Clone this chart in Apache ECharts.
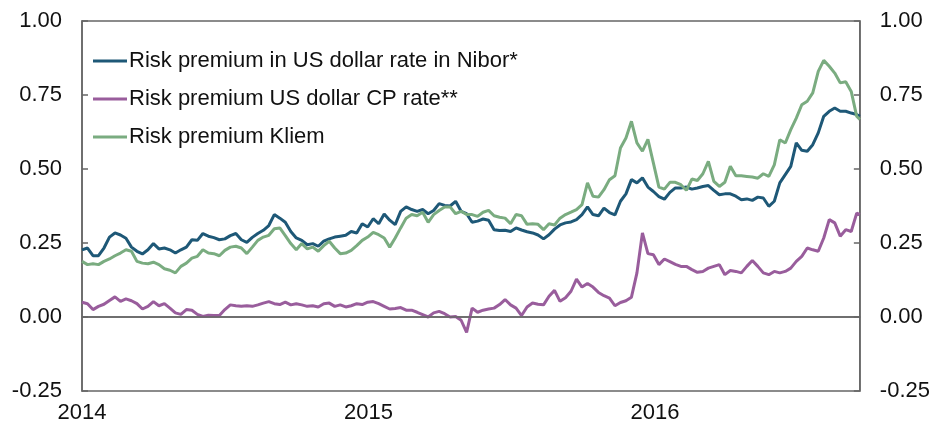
<!DOCTYPE html>
<html>
<head lang="en">
    <meta charset="UTF-8">
    <title>Risk premium</title>
    <script type="text/javascript" src="https://cdn.jsdelivr.net/npm/echarts@6/dist/echarts.min.js"></script>
    <style>
        html, body { margin: 0; padding: 0; background: #fff; }
        #chart { width: 933px; height: 427px; }
    </style>
</head>
<body>
<div id="chart"></div>

<script type="text/javascript">
    // weekly readings from 2014-01-01, last one is the final day shown (day 991)
    var seriesNames = ['Risk premium in US dollar rate in Nibor*', 'Risk premium US dollar CP rate**', 'Risk premium Kliem'];
    var yearLabels = ['2014', '2015', '2016'];
    var lastDay = 991;

    var nibor = [
        0.227, 0.233, 0.207, 0.207, 0.233, 0.270, 0.284, 0.277, 0.266, 0.236, 0.222, 0.213, 0.227, 0.248, 0.230, 0.233, 0.227, 0.216, 0.227, 0.236, 0.261, 0.259, 0.282, 0.273,
        0.268, 0.261, 0.264, 0.275, 0.282, 0.261, 0.252, 0.269, 0.282, 0.293, 0.309, 0.346, 0.334, 0.320, 0.289, 0.267, 0.259, 0.244, 0.248, 0.239, 0.256, 0.264, 0.270, 0.273,
        0.276, 0.289, 0.284, 0.315, 0.304, 0.332, 0.315, 0.348, 0.327, 0.312, 0.357, 0.372, 0.363, 0.357, 0.363, 0.349, 0.360, 0.383, 0.377, 0.375, 0.391, 0.357, 0.349,
        0.320, 0.324, 0.331, 0.327, 0.295, 0.292, 0.293, 0.289, 0.301, 0.294, 0.288, 0.284, 0.277, 0.264, 0.278, 0.297, 0.311, 0.318, 0.321, 0.329, 0.346, 0.372, 0.346, 0.342,
        0.368, 0.353, 0.345, 0.391, 0.416, 0.464, 0.453, 0.470, 0.439, 0.424, 0.407, 0.398, 0.421, 0.436, 0.436, 0.439, 0.432, 0.436, 0.441, 0.444, 0.428, 0.413, 0.416,
        0.416, 0.408, 0.396, 0.399, 0.394, 0.405, 0.402, 0.374, 0.391, 0.453, 0.481, 0.509, 0.588, 0.563, 0.560, 0.582, 0.622, 0.678, 0.695, 0.706, 0.695, 0.695, 0.689, 0.684,
        0.678
    ];
    var cpRate = [
        0.050, 0.045, 0.025, 0.036, 0.043, 0.056, 0.068, 0.053, 0.061, 0.055, 0.045, 0.027, 0.036, 0.052, 0.038, 0.045, 0.030, 0.014, 0.009, 0.025, 0.023, 0.009, 0.002, 0.006,
        0.005, 0.005, 0.025, 0.041, 0.038, 0.036, 0.038, 0.036, 0.041, 0.047, 0.052, 0.045, 0.042, 0.050, 0.041, 0.045, 0.041, 0.036, 0.038, 0.034, 0.045, 0.047, 0.036, 0.041,
        0.034, 0.038, 0.045, 0.042, 0.050, 0.052, 0.045, 0.036, 0.027, 0.029, 0.032, 0.023, 0.023, 0.016, 0.008, 0.000, 0.014, 0.019, 0.011, 0.000, 0.002, -0.011, -0.052,
        0.030, 0.016, 0.023, 0.027, 0.030, 0.042, 0.059, 0.041, 0.030, 0.005, 0.034, 0.047, 0.043, 0.041, 0.070, 0.090, 0.053, 0.065, 0.087, 0.128, 0.101, 0.113, 0.101, 0.083,
        0.072, 0.064, 0.038, 0.049, 0.055, 0.067, 0.149, 0.284, 0.214, 0.210, 0.177, 0.196, 0.187, 0.178, 0.171, 0.171, 0.160, 0.151, 0.154, 0.165, 0.171, 0.177, 0.143,
        0.157, 0.154, 0.149, 0.171, 0.191, 0.171, 0.149, 0.143, 0.154, 0.149, 0.154, 0.165, 0.188, 0.205, 0.233, 0.227, 0.222, 0.267, 0.329, 0.318, 0.273, 0.295, 0.289, 0.351,
        0.346
    ];
    var kliem = [
        0.188, 0.177, 0.180, 0.177, 0.188, 0.196, 0.207, 0.216, 0.227, 0.222, 0.188, 0.182, 0.180, 0.185, 0.177, 0.163, 0.158, 0.149, 0.171, 0.182, 0.199, 0.205, 0.227, 0.216,
        0.214, 0.207, 0.225, 0.236, 0.239, 0.233, 0.214, 0.236, 0.259, 0.270, 0.276, 0.298, 0.301, 0.275, 0.248, 0.227, 0.248, 0.230, 0.236, 0.222, 0.241, 0.256, 0.233, 0.214,
        0.216, 0.225, 0.241, 0.259, 0.270, 0.286, 0.278, 0.267, 0.236, 0.267, 0.301, 0.334, 0.346, 0.342, 0.354, 0.320, 0.346, 0.360, 0.372, 0.372, 0.349, 0.357, 0.346,
        0.346, 0.340, 0.354, 0.360, 0.342, 0.337, 0.334, 0.315, 0.346, 0.342, 0.313, 0.315, 0.313, 0.295, 0.315, 0.311, 0.334, 0.346, 0.354, 0.363, 0.380, 0.453, 0.408, 0.405,
        0.430, 0.464, 0.477, 0.571, 0.605, 0.661, 0.588, 0.560, 0.600, 0.520, 0.439, 0.432, 0.455, 0.455, 0.447, 0.428, 0.466, 0.461, 0.484, 0.526, 0.458, 0.441, 0.455,
        0.509, 0.477, 0.477, 0.475, 0.473, 0.469, 0.484, 0.475, 0.514, 0.599, 0.588, 0.633, 0.672, 0.717, 0.729, 0.757, 0.830, 0.867, 0.847, 0.824, 0.791, 0.795, 0.762, 0.678,
        0.667
    ];

    function toPoints(values) {
        var pts = [];
        for (var i = 0; i < values.length; i++) {
            var day = (i == values.length - 1) ? lastDay : i * 7;
            pts.push([day, values[i]]);
        }
        return pts;
    }

    var font = "'Liberation Sans', Arial, sans-serif";
    var axisColor = '#666';

    var yAxisBase = function (pos) {
        return {
            type: 'value',
            position: pos,
            min: -0.25,
            max: 1,
            interval: 0.25,
            axisLine: {show: true, lineStyle: {color: axisColor, width: 1.5}},
            axisTick: {show: true, inside: true, length: 6, lineStyle: {color: axisColor, width: 1.5}},
            splitLine: {show: false},
            axisLabel: {
                margin: 20,
                color: '#111',
                fontSize: 22,
                fontFamily: font,
                formatter: function (v) { return v.toFixed(2); }
            }
        };
    };

    var chart = echarts.init(document.getElementById('chart'));
    chart.setOption({
        animation: false,
        grid: {
            left: 82, right: 71, top: 21, bottom: 36,
            show: true, borderColor: axisColor, borderWidth: 1.5
        },
        legend: {
            orient: 'vertical',
            left: 88,
            top: 45,
            icon: 'rect',
            itemWidth: 34,
            itemHeight: 3,
            itemGap: 16,
            data: seriesNames,
            textStyle: {fontSize: 22, lineHeight: 22, fontFamily: font, color: '#111', padding: [0, 0, 0, -3]}
        },
        xAxis: {
            type: 'value',
            min: 0,
            max: lastDay,
            interval: 365,
            axisLine: {show: true, lineStyle: {color: axisColor, width: 1.5}},
            axisTick: {show: false},
            splitLine: {show: false},
            axisLabel: {
                margin: 11,
                color: '#111',
                fontSize: 22,
                fontFamily: font,
                formatter: function (v) {
                    if (v % 365 !== 0) return '';
                    return yearLabels[v / 365] || '';
                }
            }
        },
        yAxis: [yAxisBase('left'), yAxisBase('right')],
        series: [{
            name: seriesNames[0],
            type: 'line',
            showSymbol: false,
            symbol: 'none',
            color: '#1e5877',
            lineStyle: {width: 3},
            data: toPoints(nibor)
        }, {
            name: seriesNames[1],
            type: 'line',
            showSymbol: false,
            symbol: 'none',
            color: '#995d9c',
            lineStyle: {width: 3},
            data: toPoints(cpRate),
            markLine: {
                silent: true,
                symbol: 'none',
                label: {show: false},
                lineStyle: {color: axisColor, width: 1.5, type: 'solid'},
                data: [{yAxis: 0}]
            }
        }, {
            name: seriesNames[2],
            type: 'line',
            showSymbol: false,
            symbol: 'none',
            color: '#7aac80',
            lineStyle: {width: 3},
            data: toPoints(kliem)
        }]
    });
</script>
</body>
</html>
